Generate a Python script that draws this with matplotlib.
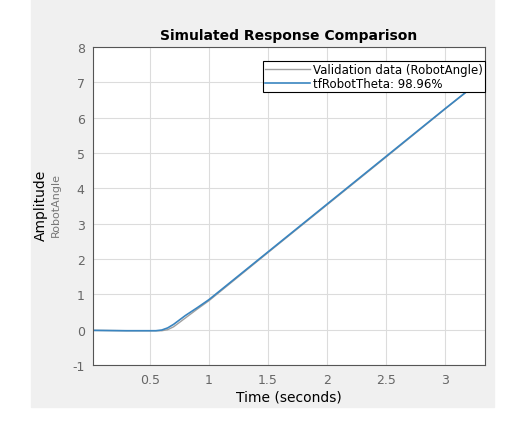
import matplotlib
matplotlib.use("Agg")
import matplotlib.pyplot as plt
plt.rcParams['axes.unicode_minus'] = False

time = [0.017, 0.3, 0.55, 0.6, 0.65, 0.7, 0.8, 0.9, 1.0, 1.5, 2.0, 2.5, 3.0, 3.34]
model = [-0.02, -0.03, -0.03, -0.01, 0.05, 0.15, 0.40, 0.62, 0.85, 2.20, 3.55, 4.90, 6.25, 7.15]
valid = [-0.02, -0.03, -0.03, -0.03, 0.00, 0.08, 0.33, 0.58, 0.82, 2.18, 3.53, 4.88, 6.24, 7.15]
xticks = [0.5, 1, 1.5, 2, 2.5, 3]
yticks = list(range(-1, 9))

W, H = 516, 431
fig = plt.figure(figsize=(W/100, H/100), dpi=100)
fig.patches.append(plt.Rectangle((31/W, 1-408/H), 463/W, 408/H, transform=fig.transFigure,
                                 color='#f0f0f0', zorder=-10))
ax = fig.add_axes([93/W, 1-366/H, (485-93)/W, (366-48)/H])
ax.plot(time, valid, color='#a0a0a0', lw=1.0, label='Validation data (RobotAngle)')
ax.plot(time, model, color='#3a85c0', lw=1.2, label='tfRobotTheta: 98.96%')
ax.set_xlim(0.017, 3.34)
ax.set_ylim(-1, 8)
ax.set_xticks(xticks)
ax.set_xticklabels([f"{t:g}" for t in xticks])
ax.set_yticks(yticks)
ax.grid(True, color='#dcdcdc', lw=0.8)
ax.set_axisbelow(True)
for s in ax.spines.values():
    s.set_color('#555555'); s.set_linewidth(0.8)
ax.tick_params(colors='#555555', labelcolor='#666666', labelsize=9, length=0, pad=6)
ax.set_title('Simulated Response Comparison', fontsize=10, fontweight='bold', pad=6)
ax.set_xlabel('Time (seconds)', fontsize=10, labelpad=2)
fig.text(41/W, 1-205/H, 'Amplitude', rotation=90, fontsize=10, va='center', ha='center')
fig.text(56/W, 1-205/H, 'RobotAngle', rotation=90, fontsize=8, color='#777777', va='center', ha='center')
leg = ax.legend(loc='upper right', fontsize=8.5, fancybox=False, framealpha=1, borderpad=0.15,
                handlelength=3.8, handletextpad=0.3, labelspacing=0.1, borderaxespad=0,
                bbox_to_anchor=(1.0, 0.955))
leg.get_frame().set_edgecolor('black'); leg.get_frame().set_linewidth(0.8)
fig.savefig('out.png', dpi=100)
